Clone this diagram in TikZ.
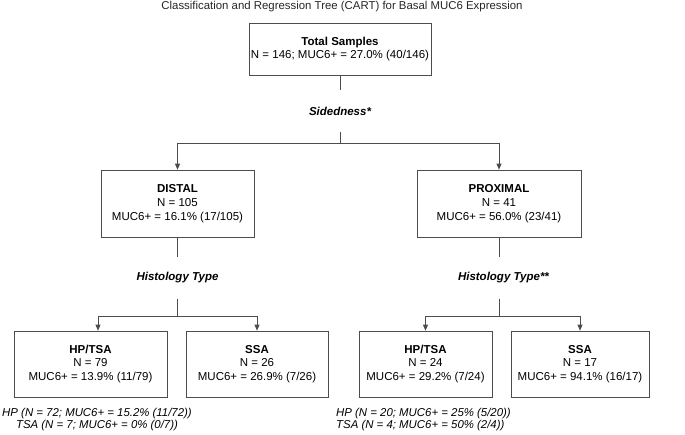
\documentclass[tikz,border=0pt]{standalone}
\usepackage{fontspec}
\setmainfont{Liberation Sans}
\usetikzlibrary{arrows.meta, positioning, calc}
\tikzset{
    box/.style={draw=black!70, line width=0.7pt, align=center, inner sep=0pt, font=\fontsize{11.5}{13.8}\selectfont},
    split/.style={inner sep=0pt, minimum height=41pt, font=\fontsize{11.5}{13}\selectfont\bfseries\itshape},
    stem/.style={draw=black!70, line width=0.7pt},
    branch/.style={stem, -{Triangle[length=6pt, width=5pt]}},
    note/.style={inner sep=0pt, font=\fontsize{11.4}{11.5}\selectfont\itshape}
}

\begin{document}
\begin{tikzpicture}[x=1pt, y=-1pt]
    \useasboundingbox (0,0) rectangle (685,434);
    \node[font=\fontsize{11.4}{13}\selectfont, text=black!85] (title) at (342,7) {Classification and Regression Tree (CART) for Basal MUC6 Expression};
    % Root and first split
    \node[box, minimum width=182pt, minimum height=52pt] (total) at (340,49) {\textbf{Total Samples}\\N = 146; MUC6+ = 27.0\% (40/146)};
    \node[split] (sided) at (340,111) {Sidedness*};
    \coordinate (fork1) at (340,143);
    \node[box, minimum width=153pt, minimum height=67pt] (distal) at (177.5,203.5) {\textbf{DISTAL}\\N = 105\\MUC6+ = 16.1\% (17/105)};
    \node[box, minimum width=164pt, minimum height=67pt] (proximal) at (499,203.5) {\textbf{PROXIMAL}\\N = 41\\MUC6+ = 56.0\% (23/41)};
    \draw[stem] (total) -- (sided);
    \draw[stem] (sided) -- (fork1);
    \draw[branch] (fork1) -| (distal);
    \draw[branch] (fork1) -| (proximal);
    % Distal split
    \node[split] (histdist) at (177.5,278) {Histology Type};
    \coordinate (fork2) at (177.5,316);
    \node[box, minimum width=153pt, minimum height=66pt] (hptsadist) at (90.5,364) {\textbf{HP/TSA}\\N = 79\\MUC6+ = 13.9\% (11/79)};
    \node[box, minimum width=142pt, minimum height=66pt] (ssadist) at (257,364) {\textbf{SSA}\\N = 26\\MUC6+ = 26.9\% (7/26)};
    \coordinate (tipdist) at ([xshift=7.5pt]hptsadist.north);
    \draw[stem] (distal) -- (histdist);
    \draw[stem] (histdist) -- (fork2);
    \draw[branch] (fork2) -| (tipdist);
    \draw[branch] (fork2) -| (ssadist);
    % Proximal split
    \node[split] (histprox) at (499,278) {Histology Type\rlap{**}};
    \coordinate (fork3) at (499,316);
    \node[box, minimum width=133pt, minimum height=66pt] (hptsaprox) at (425.5,364) {\textbf{HP/TSA}\\N = 24\\MUC6+ = 29.2\% (7/24)};
    \node[box, minimum width=138pt, minimum height=66pt] (ssaprox) at (580,364) {\textbf{SSA}\\N = 17\\MUC6+ = 94.1\% (16/17)};
    \draw[stem] (proximal) -- (histprox);
    \draw[stem] (histprox) -- (fork3);
    \draw[branch] (fork3) -| (hptsaprox);
    \draw[branch] (fork3) -| (ssaprox);
    % HP and TSA counts
    \node[note, align=center] (notedist) at (97,419.5) {HP (N = 72; MUC6+ = 15.2\% (11/72))\\TSA (N = 7; MUC6+ = 0\% (0/7))};
    \node[note, align=left, anchor=west] (noteprox) at (336,419.5) {HP (N = 20; MUC6+ = 25\% (5/20))\\TSA (N = 4; MUC6+ = 50\% (2/4))};
\end{tikzpicture}
\end{document}
